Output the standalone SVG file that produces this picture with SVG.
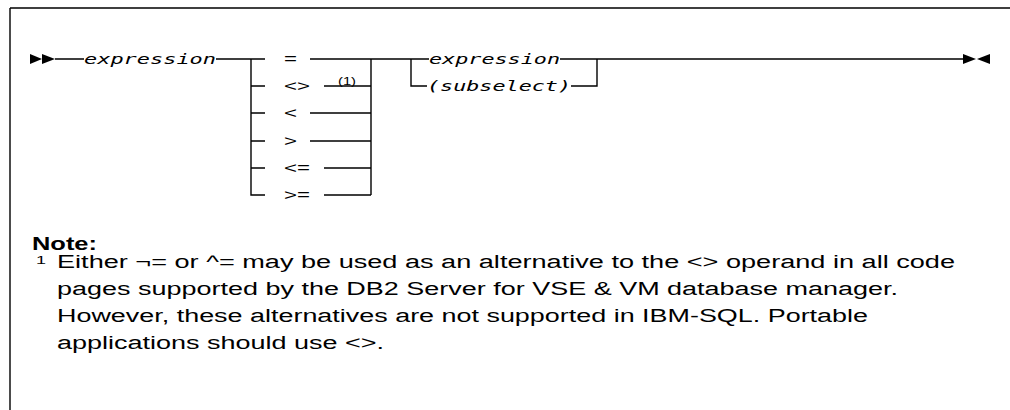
<svg xmlns="http://www.w3.org/2000/svg" width="1010" height="410" viewBox="0 0 1010 410">
<style>
.ln{stroke:#000;stroke-width:1.4;fill:none}
.kw{font-family:"DejaVu Sans Mono",monospace;font-style:italic;font-size:14.6px;fill:#000}
.op{font-family:"Liberation Sans",Arial,sans-serif;font-size:15px;fill:#000}
.sup{font-family:"Liberation Sans",Arial,sans-serif;font-size:11px;fill:#000}
.note{font-family:"Liberation Sans",Arial,sans-serif;font-size:18px;fill:#000}
.hd{font-family:"Liberation Sans",Arial,sans-serif;font-size:18px;font-weight:bold;fill:#000}
.ar{fill:#000}
</style>
<g id="frame">
<path class="ln" d="M10,8 H1010 M10,8 V410" stroke="#222"/>
</g>
<g id="start">
<polygon class="ar" points="30,54 42,59 30,64"/>
<polygon class="ar" points="42,54 55,59 42,64"/>
</g>
<g id="node-expression1">
<text class="kw" x="84" y="64" textLength="132" lengthAdjust="spacingAndGlyphs">expression</text>
</g>
<g id="node-operators">
<text class="op" x="284" y="64" textLength="13" lengthAdjust="spacingAndGlyphs">=</text>
<text class="op" x="284" y="91" textLength="26" lengthAdjust="spacingAndGlyphs">&lt;&gt;</text>
<text class="sup" x="338" y="85" textLength="18" lengthAdjust="spacingAndGlyphs">(1)</text>
<text class="op" x="284" y="118" textLength="13" lengthAdjust="spacingAndGlyphs">&lt;</text>
<text class="op" x="284" y="146" textLength="13" lengthAdjust="spacingAndGlyphs">&gt;</text>
<text class="op" x="284" y="173" textLength="26" lengthAdjust="spacingAndGlyphs">&lt;=</text>
<text class="op" x="284" y="200" textLength="26" lengthAdjust="spacingAndGlyphs">&gt;=</text>
</g>
<g id="node-expression2">
<text class="kw" x="429" y="64" textLength="131" lengthAdjust="spacingAndGlyphs">expression</text>
</g>
<g id="node-subselect">
<text class="kw" x="427" y="91" textLength="144" lengthAdjust="spacingAndGlyphs">(subselect)</text>
</g>
<g id="end">
<polygon class="ar" points="963,54 976,59 963,64"/>
<polygon class="ar" points="990,54 977,59 990,64"/>
</g>
<g id="connectors">
<path class="ln" d="M55,59 H84 M216,59 H265 M251,59 V195 H265 M251,86 H265 M251,113 H265 M251,141 H265 M251,168 H265"/>
<path class="ln" d="M310,59 H411 M324,86 H371 M310,113 H371 M310,141 H371 M324,168 H371 M324,195 H371 M371,59 V195"/>
<path class="ln" d="M411,59 H429 M411,59 V86 H427 M560,59 H963 M571,86 H597 V59"/>
</g>
<g id="notes">
<text class="hd" x="32" y="250" textLength="65" lengthAdjust="spacingAndGlyphs">Note:</text>
<text class="sup" x="36" y="264" font-size="12" textLength="10" lengthAdjust="spacingAndGlyphs">1</text>
<text class="note" x="57" y="268" textLength="898" lengthAdjust="spacingAndGlyphs">Either ¬= or ^= may be used as an alternative to the &lt;&gt; operand in all code</text>
<text class="note" x="57" y="295" textLength="841" lengthAdjust="spacingAndGlyphs">pages supported by the DB2 Server for VSE &amp; VM database manager.</text>
<text class="note" x="57" y="322" textLength="811" lengthAdjust="spacingAndGlyphs">However, these alternatives are not supported in IBM-SQL. Portable</text>
<text class="note" x="57" y="349" textLength="327" lengthAdjust="spacingAndGlyphs">applications should use &lt;&gt;.</text>
</g>
</svg>
